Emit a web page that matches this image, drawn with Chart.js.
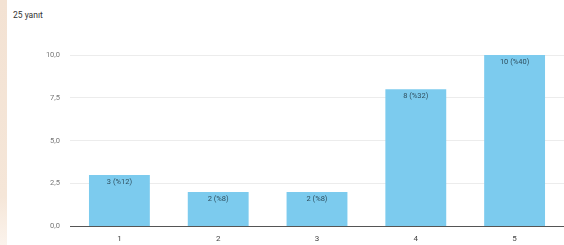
<!DOCTYPE html>
<html>
<head>
<meta charset="utf-8">
<script src="https://cdn.jsdelivr.net/npm/chart.js@4/dist/chart.umd.min.js"></script>
<style>
html,body{margin:0;padding:0;background:#fff;}
#wrap{position:relative;width:564px;height:245px;overflow:hidden;background:#fff;}
#strip{position:absolute;left:0;top:0;width:7px;height:245px;background:linear-gradient(#f3e2d3,#f5e6d8 80%,#fbf3ec);}
#title{position:absolute;left:13px;top:10px;font:8.5px Roboto,"Liberation Sans",sans-serif;color:#333;}
canvas{position:absolute;left:0;top:0;}
</style>
</head>
<body>
<div id="wrap">
<div id="strip"></div>
<div id="title">25 yanıt</div>
<canvas id="c" width="564" height="245"></canvas>
</div>
<script>
const categories = ['1', '2', '3', '4', '5'];
const counts = [3, 2, 2, 8, 10];
const barLabels = ['3 (%12)', '2 (%8)', '2 (%8)', '8 (%32)', '10 (%40)'];
const yTicks = [0, 2.5, 5, 7.5, 10];

const labelPlugin = {
  id: 'barLabels',
  afterDatasetsDraw(chart) {
    const ctx = chart.ctx;
    const meta = chart.getDatasetMeta(0);
    ctx.save();
    ctx.font = '7.5px Roboto, "Liberation Sans", sans-serif';
    ctx.fillStyle = '#2f4f5f';
    ctx.textAlign = 'center';
    ctx.textBaseline = 'top';
    meta.data.forEach((bar, i) => {
      ctx.fillText(barLabels[i], bar.x, bar.y + 3);
    });
    ctx.restore();
  }
};

new Chart(document.getElementById('c'), {
  type: 'bar',
  data: {
    labels: categories,
    datasets: [{
      data: counts,
      backgroundColor: '#7ccbee',
      borderWidth: 0,
      barPercentage: 0.616,
      categoryPercentage: 1.0
    }]
  },
  options: {
    responsive: false,
    animation: false,
    devicePixelRatio: 1,
    layout: { padding: { top: 55, bottom: -7, left: 0, right: 0 } },
    plugins: { legend: { display: false }, tooltip: { enabled: false } },
    scales: {
      x: {
        grid: { display: false, drawTicks: false },
        border: { display: true, color: '#555', width: 1 },
        ticks: { color: '#444', font: { size: 8, family: 'Roboto, "Liberation Sans", sans-serif' }, padding: 8 }
      },
      y: {
        min: 0,
        max: 10,
        afterFit(scale) { scale.width = 70; },
        afterBuildTicks(scale) { scale.ticks = yTicks.map(v => ({ value: v })); },
        grid: { color: '#ececec', drawTicks: false },
        border: { display: false },
        ticks: {
          color: '#777',
          padding: 10,
          font: { size: 7.5, family: 'Roboto, "Liberation Sans", sans-serif' },
          callback: v => v.toFixed(1).replace('.', ',')
        }
      }
    }
  },
  plugins: [labelPlugin]
});
</script>
</body>
</html>
